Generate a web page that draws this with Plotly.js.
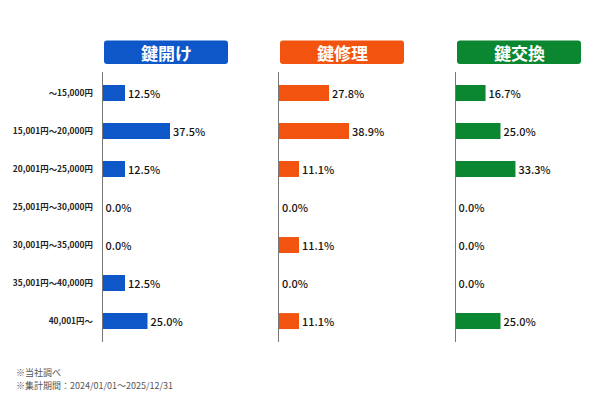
<!DOCTYPE html>
<html><head><meta charset="utf-8">
<script src="https://cdn.plot.ly/plotly-3.0.1.min.js"></script>
<style>html,body{margin:0;padding:0;background:#fff}#chart{width:600px;height:400px}</style>
</head><body><div id="chart"></div>
<script>
const categories = ["～15,000円","15,001円～20,000円","20,001円～25,000円","25,001円～30,000円","30,001円～35,000円","35,001円～40,000円","40,001円～"];
const seriesNames = ["鍵開け","鍵修理","鍵交換"];
const unlockValues = [12.5,37.5,12.5,0.0,0.0,12.5,25.0];
const repairValues = [27.8,38.9,11.1,0.0,11.1,0.0,11.1];
const replaceValues = [16.7,25.0,33.3,0.0,0.0,0.0,25.0];
const notes = ["※当社調べ","※集計期間：2024/01/01～2025/12/31"];

const colors = ["#0d57c9","#f2540f","#0b8731"];
const allValues = [unlockValues, repairValues, replaceValues];
const FONT = "'Noto Sans CJK JP', 'Noto Sans', sans-serif";
const W = 600, H = 400;
const panelsPx = [[102.5,228.5],[279,405],[455.5,581.5]];
const headerPx = [[104,228],[280,404],[457,581]];
const hTop = 40.5, hBot = 64;

const traces = allValues.map((vals, i) => ({
  type: 'bar', orientation: 'h',
  x: vals, y: categories,
  xaxis: i === 0 ? 'x' : 'x' + (i + 1),
  yaxis: i === 0 ? 'y' : 'y' + (i + 1),
  marker: {color: colors[i]},
  width: 0.42,
  text: vals.map(v => v.toFixed(1) + '%'),
  textposition: 'outside',
  cliponaxis: false,
  textfont: {family: FONT, size: 13, color: '#151515', weight: 500},
  hoverinfo: 'skip'
}));

const layout = {
  width: W, height: H,
  margin: {l:0, r:0, t:0, b:0},
  paper_bgcolor: '#fff', plot_bgcolor: '#fff',
  showlegend: false,
  font: {family: FONT},
  shapes: [], annotations: []
};

const yDomain = [(H-342)/H, (H-72)/H];
for (let i = 0; i < 3; i++) {
  const xs = i === 0 ? '' : String(i + 1);
  layout['xaxis' + xs] = {
    domain: [panelsPx[i][0]/W, panelsPx[i][1]/W],
    range: [0, 70], visible: false, fixedrange: true,
    anchor: 'y' + xs
  };
  layout['yaxis' + xs] = {
    domain: yDomain,
    anchor: 'x' + xs,
    type: 'category',
    range: [6.55, -0.55],
    showline: true, linecolor: '#777', linewidth: 1,
    showgrid: false, zeroline: false, ticks: '',
    showticklabels: i === 0,
    ticklabelstandoff: 7,
    tickfont: {family: FONT, size: 8.4, color: '#222', weight: 'bold'}
  };
  const x0 = headerPx[i][0]/W, x1 = headerPx[i][1]/W;
  const y0 = (H - hBot)/H, y1 = (H - hTop)/H;
  const rx = 3/W, ry = 3/H;
  layout.shapes.push({
    type: 'path', xref: 'paper', yref: 'paper',
    path: `M ${x0+rx},${y0} L ${x1-rx},${y0} Q ${x1},${y0} ${x1},${y0+ry} L ${x1},${y1-ry} Q ${x1},${y1} ${x1-rx},${y1} L ${x0+rx},${y1} Q ${x0},${y1} ${x0},${y1-ry} L ${x0},${y0+ry} Q ${x0},${y0} ${x0+rx},${y0} Z`,
    fillcolor: colors[i], line: {width: 0}
  });
  layout.annotations.push({
    xref: 'paper', yref: 'paper',
    x: (x0 + x1)/2, y: (y0 + y1)/2,
    xanchor: 'center', yanchor: 'middle',
    text: seriesNames[i], showarrow: false,
    font: {family: FONT, size: 17, color: '#fff', weight: 'bold'}
  });
}
notes.forEach((t, k) => {
  layout.annotations.push({
    xref: 'paper', yref: 'paper',
    x: 14/W, y: (H - (372 + k*13.5))/H,
    xanchor: 'left', yanchor: 'middle',
    text: t, showarrow: false,
    font: {family: FONT, size: 9, color: '#555'}
  });
});

Plotly.newPlot('chart', traces, layout, {displayModeBar: false, staticPlot: true});
</script></body></html>
